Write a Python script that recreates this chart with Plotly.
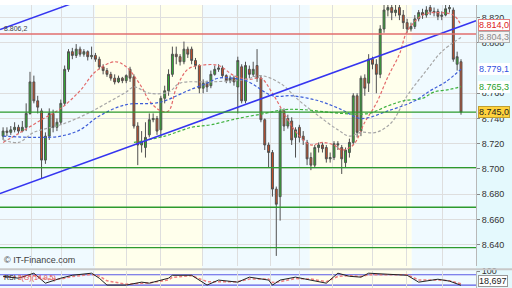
import plotly.graph_objects as go

# ---------------- data ----------------
open_ = [8.726,8.730,8.729,8.731,8.733,8.730,8.733,8.744,8.769,8.754,
         8.746,8.707,8.726,8.744,8.733,8.737,8.752,8.779,8.793,8.790,
         8.795,8.791,8.793,8.789,8.790,8.787,8.781,8.778,8.775,8.772,
         8.769,8.772,8.770,8.779,8.773,8.734,8.719,8.717,8.727,8.739,
         8.740,8.731,8.756,8.762,8.775,8.791,8.789,8.785,8.795,8.795,
         8.786,8.782,8.764,8.768,8.766,8.775,8.779,8.780,8.774,8.770,
         8.772,8.765,8.781,8.754,8.779,8.775,8.782,8.772,8.739,8.719,
         8.713,8.684,8.678,8.746,8.734,8.738,8.725,8.733,8.726,8.721,
         8.709,8.703,8.717,8.719,8.717,8.708,8.709,8.720,8.717,8.705,
         8.713,8.721,8.758,8.730,8.772,8.768,8.787,8.783,8.775,8.811,
         8.826,8.828,8.824,8.828,8.822,8.816,8.811,8.813,8.819,8.824,
         8.822,8.828,8.825,8.825,8.821,8.822,8.827,8.826,8.783,8.785]
high = [8.733,8.733,8.734,8.737,8.735,8.738,8.752,8.777,8.774,8.758,
        8.748,8.729,8.748,8.747,8.740,8.755,8.782,8.795,8.796,8.799,
        8.797,8.795,8.794,8.797,8.792,8.789,8.783,8.780,8.777,8.775,
        8.774,8.773,8.775,8.781,8.775,8.737,8.730,8.737,8.744,8.744,
        8.742,8.758,8.766,8.779,8.797,8.797,8.791,8.801,8.797,8.797,
        8.788,8.783,8.771,8.770,8.778,8.782,8.783,8.782,8.775,8.774,
        8.774,8.789,8.783,8.785,8.782,8.785,8.795,8.774,8.740,8.721,
        8.715,8.686,8.748,8.748,8.743,8.741,8.733,8.735,8.730,8.723,
        8.713,8.719,8.721,8.721,8.719,8.713,8.722,8.722,8.719,8.717,
        8.724,8.760,8.760,8.774,8.775,8.791,8.789,8.787,8.814,8.832,
        8.832,8.832,8.832,8.832,8.826,8.819,8.816,8.822,8.826,8.827,
        8.829,8.832,8.828,8.827,8.825,8.832,8.832,8.828,8.793,8.787]
low = [8.723,8.726,8.727,8.729,8.728,8.729,8.730,8.743,8.752,8.744,
       8.692,8.704,8.723,8.729,8.730,8.735,8.750,8.777,8.787,8.788,
       8.789,8.789,8.786,8.787,8.785,8.779,8.775,8.773,8.770,8.767,
       8.768,8.768,8.768,8.769,8.732,8.703,8.713,8.709,8.725,8.737,
       8.727,8.725,8.752,8.758,8.773,8.783,8.782,8.783,8.788,8.783,
       8.779,8.760,8.760,8.761,8.764,8.774,8.777,8.772,8.768,8.768,
       8.766,8.744,8.752,8.752,8.772,8.773,8.769,8.737,8.715,8.701,
       8.678,8.631,8.659,8.730,8.732,8.719,8.709,8.721,8.719,8.703,
       8.699,8.701,8.713,8.713,8.705,8.705,8.707,8.715,8.696,8.701,
       8.709,8.719,8.725,8.726,8.758,8.761,8.779,8.760,8.772,8.808,
       8.821,8.818,8.821,8.818,8.811,8.808,8.809,8.811,8.817,8.819,
       8.820,8.822,8.821,8.818,8.818,8.821,8.824,8.785,8.778,8.743]
close = [8.730,8.729,8.731,8.733,8.730,8.733,8.744,8.769,8.754,8.749,
         8.707,8.726,8.744,8.733,8.737,8.752,8.779,8.793,8.790,8.795,
         8.791,8.793,8.789,8.790,8.787,8.781,8.778,8.775,8.772,8.769,
         8.772,8.770,8.774,8.772,8.734,8.719,8.722,8.725,8.739,8.740,
         8.730,8.756,8.762,8.775,8.791,8.789,8.785,8.795,8.791,8.786,
         8.782,8.764,8.768,8.765,8.775,8.779,8.780,8.774,8.770,8.772,
         8.769,8.786,8.754,8.782,8.775,8.779,8.772,8.739,8.719,8.713,
         8.684,8.672,8.746,8.734,8.740,8.723,8.731,8.725,8.723,8.708,
         8.703,8.717,8.719,8.716,8.708,8.709,8.720,8.719,8.708,8.715,
         8.721,8.758,8.729,8.772,8.764,8.787,8.783,8.775,8.811,8.826,
         8.828,8.824,8.826,8.822,8.816,8.811,8.813,8.819,8.824,8.822,
         8.826,8.825,8.824,8.821,8.822,8.827,8.828,8.787,8.789,8.745]
bar_index = list(range(len(close)))

ma_red_x = [0,4,10,15,20,24,29,32,36,38,41,43,45,48,51,56,60,64,67,70,73,75,78,80,83,86,88,91,94,97,100,103,105,109,112,117,119]
ma_red_y = [8.721,8.728,8.739,8.748,8.762,8.777,8.785,8.781,8.765,8.754,8.746,8.746,8.764,8.779,8.782,8.782,8.774,8.771,8.772,8.760,8.744,8.734,8.723,8.719,8.721,8.719,8.715,8.719,8.737,8.752,8.773,8.791,8.809,8.822,8.824,8.822,8.814]
ma_gray_x = [0,4,8,15,22,28,32,34,38,43,46,54,63,67,72,77,82,87,90,93,97,101,105,110,114,119]
ma_gray_y = [8.723,8.721,8.729,8.735,8.744,8.754,8.761,8.765,8.760,8.761,8.768,8.769,8.771,8.774,8.768,8.754,8.742,8.731,8.726,8.729,8.729,8.737,8.758,8.778,8.793,8.8043]
ma_blue_x = [0,8,15,20,25,32,39,42,48,53,56,63,70,75,82,88,93,100,107,111,115,119]
ma_blue_y = [8.726,8.725,8.726,8.731,8.742,8.751,8.752,8.754,8.762,8.768,8.772,8.770,8.758,8.758,8.754,8.747,8.740,8.746,8.754,8.762,8.769,8.7791]
ma_green_x = [34,42,49,54,61,68,73,78,88,95,100,104,109,112,116,119]
ma_green_y = [8.721,8.726,8.733,8.735,8.740,8.744,8.747,8.747,8.744,8.744,8.750,8.754,8.756,8.761,8.763,8.7653]

rsi_x = [0,4,8,11,15,18,23,25,27,32,36,38,43,44,49,53,56,61,64,69,70,72,76,80,84,87,90,93,95,100,105,108,113,116,119]
rsi_y = [71,60,89,31,60,77,89,60,20,20,37,31,60,77,77,20,49,37,66,49,20,49,66,49,31,89,71,66,89,83,77,37,54,43,18.7]
rsi_sig_y = [70,65,75,55,55,70,82,72,45,25,30,33,50,65,75,40,40,40,55,55,35,40,58,55,40,70,75,70,80,82,80,50,50,45,28]

price_ticks = [8.64,8.66,8.68,8.70,8.72,8.74,8.76,8.80,8.82]
price_tick_text = ["8.640","8.660","8.680","8.700","8.720","8.740","8.760","8.800","8.820"]
green_levels = [8.745,8.701,8.6696,8.6376]
red_level = 8.807
red_level_text = "8.806,2"
trend_x = [-0.8,122.9]
trend_lower_y = [8.6804,8.8175]
trend_upper_y = [8.8105,8.9476]
session_edges = [-0.8,23.9,51.7,79.7,106.2,122.9]
time_grid = [7.5,15.3,23.4,32.2,40.8,51.7,61,69.4,77.1,85.7,96.1,104.9,114.3]
right_labels = [("8.814,0",8.814),("8.804,3",8.8043),("8.779,1",8.7791),("8.765,3",8.7653),("8.745,0",8.745)]
rsi_levels = [80,20]
rsi_last_text = "18,697"
rsi_last_value = 18.697

# ---------------- figure ----------------
FONT = "Liberation Sans"
XR = [-0.8, 122.9]
fig = go.Figure()

fig.add_trace(go.Candlestick(
    x=bar_index, open=open_, high=high, low=low, close=close,
    increasing=dict(line=dict(color="#505050", width=1), fillcolor="#2fb52f"),
    decreasing=dict(line=dict(color="#505050", width=1), fillcolor="#cf4e25"),
    whiskerwidth=0, showlegend=False, xaxis="x", yaxis="y", hoverinfo="skip"))

ma_specs = [(ma_red_x, ma_red_y, "#e36a6a"), (ma_gray_x, ma_gray_y, "#a6a6a6"),
            (ma_blue_x, ma_blue_y, "#3e5ed8"), (ma_green_x, ma_green_y, "#3fb23f")]
for mx, my, col in ma_specs:
    fig.add_trace(go.Scatter(x=mx, y=my, mode="lines", line=dict(color=col, width=1.2, dash="3px,2px", shape="spline"),
                             showlegend=False, xaxis="x", yaxis="y", hoverinfo="skip"))

for ty in (trend_lower_y, trend_upper_y):
    fig.add_trace(go.Scatter(x=trend_x, y=ty, mode="lines", line=dict(color="#3535f0", width=1.5),
                             showlegend=False, xaxis="x", yaxis="y", hoverinfo="skip"))

fig.add_trace(go.Scatter(x=rsi_x, y=rsi_sig_y, mode="lines", line=dict(color="#f08080", width=1.5, dash="3px,2px"),
                         showlegend=False, xaxis="x2", yaxis="y2", hoverinfo="skip"))
fig.add_trace(go.Scatter(x=rsi_x, y=rsi_y, mode="lines", line=dict(color="#222222", width=1),
                         showlegend=False, xaxis="x2", yaxis="y2", hoverinfo="skip"))

shapes = []
band_cols = ["rgb(240,250,255)", "rgb(255,255,236)"]
for k in range(len(session_edges) - 1):
    shapes.append(dict(type="rect", xref="x", yref="paper", x0=session_edges[k], x1=session_edges[k+1],
                       y0=0, y1=1, fillcolor=band_cols[k % 2], line=dict(width=0), layer="below"))
shapes.append(dict(type="rect", xref="paper", yref="paper", x0=0.9297, x1=1, y0=0, y1=1,
                   fillcolor="rgb(228,249,253)", line=dict(width=0), layer="below"))
for g in green_levels:
    shapes.append(dict(type="line", xref="x", yref="y", x0=XR[0], x1=XR[1], y0=g, y1=g,
                       line=dict(color="#2d9a2d", width=1.3), layer="above"))
shapes.append(dict(type="line", xref="x", yref="y", x0=XR[0], x1=XR[1], y0=red_level, y1=red_level,
                   line=dict(color="rgba(225,110,110,0.75)", width=2), layer="above"))
for lv in rsi_levels:
    shapes.append(dict(type="line", xref="x2", yref="y2", x0=XR[0], x1=XR[1], y0=lv, y1=lv,
                       line=dict(color="#5a5ae6", width=1.2), layer="below"))
shapes.append(dict(type="line", xref="paper", yref="paper", x0=0, x1=1, y0=0.066, y1=0.066,
                   line=dict(color="#c8c8c8", width=2)))

annotations = []
box_style = {
    "8.814,0": ("#dd2020", "#ffffff", "#e08080"),
    "8.804,3": ("#8a8a8a", "#f4f4f4", "#b0b0b0"),
    "8.779,1": ("#3050e0", "#ffffff", "#ffffff"),
    "8.765,3": ("#28a028", "#ffffff", "#ffffff"),
    "8.745,0": ("#222222", "#ffd23c", "#c0a030"),
}
for txt, val in right_labels:
    fc, bg, bc = box_style[txt]
    annotations.append(dict(x=0.934, xref="paper", xanchor="left", y=val, yref="y", yanchor="middle",
                            text=txt, showarrow=False, font=dict(family=FONT, size=9, color=fc),
                            bgcolor=bg, bordercolor=bc, borderwidth=1, borderpad=0))
annotations.append(dict(x=0.003, xref="paper", xanchor="left", y=red_level, yref="y", yanchor="bottom",
                        text=red_level_text, showarrow=False, font=dict(family=FONT, size=7, color="#444")))
annotations.append(dict(x=0.004, xref="paper", xanchor="left", y=0.073, yref="paper", yanchor="bottom",
                        text="© IT-Finance.com", showarrow=False, font=dict(family=FONT, size=9, color="#404040")))
annotations.append(dict(x=0.004, xref="paper", xanchor="left", y=0.055, yref="paper", yanchor="top",
                        text="RSI <span style='color:#e05050'>3(G)(14,9,5)</span>", showarrow=False,
                        font=dict(family=FONT, size=7, color="#222")))
annotations.append(dict(x=0.934, xref="paper", xanchor="left", y=0.002, yref="paper", yanchor="bottom",
                        text=rsi_last_text, showarrow=False, font=dict(family=FONT, size=9, color="#222"),
                        bgcolor="#ffffff", bordercolor="#999999", borderwidth=1, borderpad=0))

fig.update_layout(
    width=512, height=288, margin=dict(l=0, r=0, t=0, b=0),
    paper_bgcolor="#ffffff", plot_bgcolor="rgba(0,0,0,0)",
    showlegend=False, shapes=shapes, annotations=annotations,
    xaxis=dict(domain=[0, 0.9297], range=XR, anchor="y", tickvals=time_grid, showticklabels=False,
               showgrid=True, gridcolor="#dedede", gridwidth=1, zeroline=False, rangeslider=dict(visible=False),
               fixedrange=True),
    yaxis=dict(domain=[0.0764, 1], range=[8.6227, 8.830], side="right", anchor="x",
               tickvals=price_ticks, ticktext=price_tick_text, ticks="outside", ticklen=3, tickcolor="#888",
               tickfont=dict(family=FONT, size=9, color="#333"), showgrid=True, gridcolor="#dedede",
               zeroline=False, showline=True, linecolor="#b8b8b8", linewidth=1),
    xaxis2=dict(domain=[0, 0.9297], range=XR, anchor="y2", tickvals=time_grid, showticklabels=False,
                showgrid=True, gridcolor="#dedede", zeroline=False),
    yaxis2=dict(domain=[0, 0.059], range=[3, 100], side="right", anchor="x2",
                tickvals=[100], ticktext=["100"], ticks="outside", ticklen=3, tickcolor="#888",
                tickfont=dict(family=FONT, size=9, color="#333"), showgrid=False, zeroline=False,
                showline=True, linecolor="#b8b8b8"),
)

fig.write_html("out.html")
